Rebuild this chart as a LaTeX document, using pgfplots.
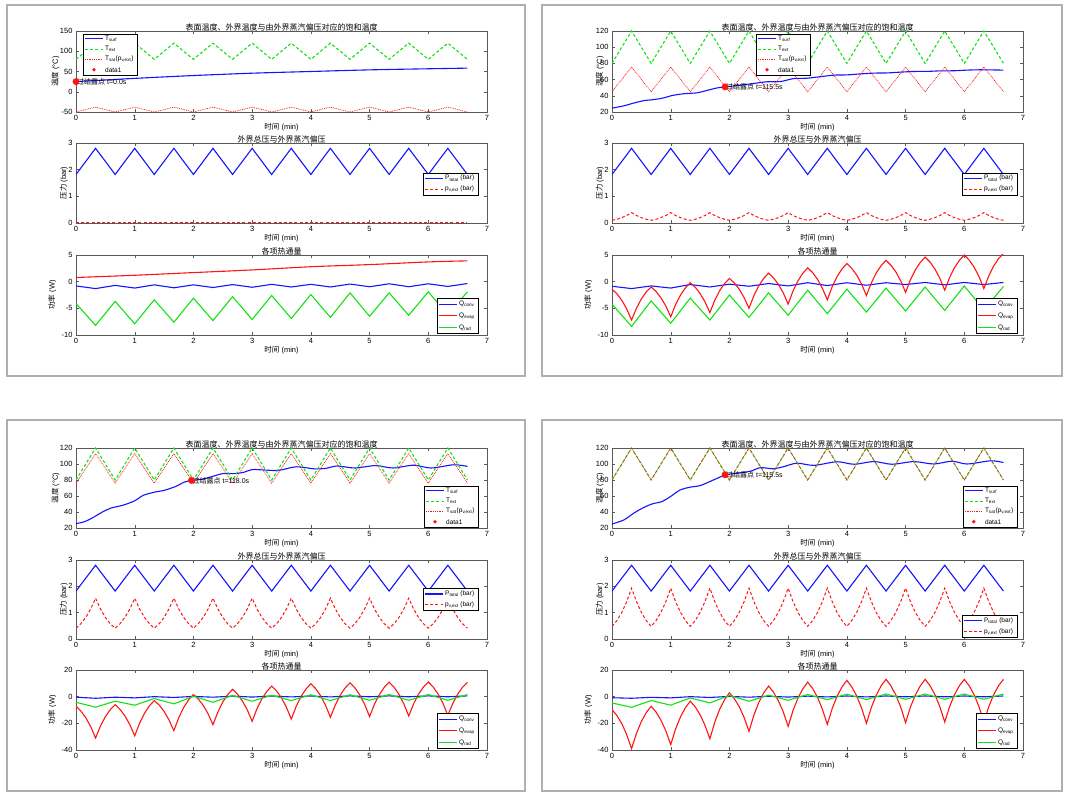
\documentclass[border=0pt]{standalone}
\usepackage{pgfplots}
\pgfplotsset{compat=1.18}
\usepackage{pgfplotstable}
\usepackage{fontspec}
\setmainfont{Liberation Sans}
\newfontfamily\cjk{Noto Sans CJK SC}
\definecolor{mblue}{RGB}{20,20,255}
\definecolor{mgreen}{RGB}{20,225,20}
\definecolor{mred}{RGB}{255,20,20}
\definecolor{frm}{RGB}{175,175,175}

\pgfplotstableread{
t Text Ptot Ts1 Ts2 Ts3 Qc1 Qc2 Qc3 Qc4 Qr1 Qr2 Qr3 Qr4
0 80 1.82 -50 45 76 -0.8 -0.86 -0.4 -0.8 -4.1 -4.2 -4.2 -4.7
0.333 120 2.8 -38 75.5 113 -1.3 -1.3 -1.2 -1.2 -8.2 -8.4 -7.9 -8.0
0.667 80 1.82 -50 45 76 -0.7 -0.8 -0.4 -0.5 -3.7 -3.6 -3.4 -2.9
1 120 2.8 -38 75.5 113 -1.2 -1.2 -0.9 -0.9 -7.9 -7.8 -6.4 -6.4
1.333 80 1.82 -50 45 76 -0.6 -0.54 0 0 -3.4 -3.1 -1.4 -0.9
1.667 120 2.8 -38 75.5 113 -1.15 -1.0 -0.6 -0.6 -7.6 -7.2 -5.4 -4.7
2 80 1.82 -50 45 76 -0.6 -0.47 0.2 0.2 -3.1 -2.5 0.3 0.9
2.333 120 2.8 -38 75.5 113 -1.1 -0.86 -0.4 -0.4 -7.3 -6.7 -4.2 -3.4
2.667 80 1.82 -50 45 76 -0.55 -0.35 0.4 0.3 -2.8 -2.1 0.9 1.1
3 120 2.8 -38 75.5 113 -1.05 -0.8 -0.3 -0.3 -7.1 -6.3 -3.4 -2.7
3.333 80 1.82 -50 45 76 -0.5 -0.2 0.5 0.4 -2.6 -1.6 1.1 1.6
3.667 120 2.8 -38 75.5 113 -1.0 -0.73 -0.2 -0.2 -6.9 -6.0 -2.9 -2.2
4 80 1.82 -50 45 76 -0.5 -0.2 0.5 0.5 -2.4 -1.4 1.4 1.8
4.333 120 2.8 -38 75.5 113 -1.0 -0.67 -0.2 -0.2 -6.7 -5.7 -2.9 -2.2
4.667 80 1.82 -50 45 76 -0.45 -0.2 0.6 0.5 -2.1 -1.2 1.4 2.0
5 120 2.8 -38 75.5 113 -0.95 -0.54 -0.1 -0.1 -6.5 -5.5 -2.7 -2.0
5.333 80 1.82 -50 45 76 -0.4 -0.15 0.6 0.5 -2.1 -1.0 1.6 2.0
5.667 120 2.8 -38 75.5 113 -0.95 -0.6 -0.1 -0.1 -6.3 -5.4 -2.7 -2.0
6 80 1.82 -50 45 76 -0.4 -0.15 0.6 0.5 -1.9 -0.8 1.6 2.0
6.333 120 2.8 -38 75.5 113 -0.9 -0.54 -0.1 -0.1 -6.2 -5.3 -2.7 -2.0
6.667 80 1.82 -50 45 76 -0.35 -0.15 0.6 0.5 -1.9 -0.9 1.6 2.0
}\tri

\pgfplotstableread{
t pv2 pv3 pv4 Qe2 Qe3 Qe4
0 0.10 0.41 0.48 -1.4 -7.2 -9.7
0.083 0.14 0.58 0.70 -2.27 -10.77 -14.1
0.167 0.20 0.82 1.01 -3.49 -15.77 -20.25
0.25 0.28 1.14 1.42 -5.11 -22.43 -28.45
0.333 0.39 1.55 1.93 -7.2 -31 -39
0.417 0.28 1.14 1.42 -4.97 -22 -27.55
0.5 0.20 0.82 1.01 -3.23 -15 -18.65
0.583 0.14 0.58 0.70 -1.93 -9.75 -11.97
0.667 0.10 0.41 0.48 -1.0 -6 -7.2
0.75 0.14 0.58 0.70 -1.84 -9.51 -11.52
0.833 0.20 0.82 1.01 -3.02 -14.42 -17.57
0.917 0.28 1.14 1.42 -4.58 -20.98 -25.63
1 0.39 1.55 1.93 -6.6 -29.4 -36
1.083 0.28 1.14 1.42 -4.30 -19.86 -24.26
1.167 0.20 0.82 1.01 -2.50 -12.44 -15.14
1.25 0.14 0.58 0.70 -1.16 -6.88 -8.29
1.333 0.10 0.41 0.48 -0.2 -2.9 -3.4
1.417 0.14 0.58 0.70 -1.04 -6.29 -7.63
1.5 0.20 0.82 1.01 -2.22 -11.04 -13.55
1.583 0.28 1.14 1.42 -3.78 -17.36 -21.45
1.667 0.39 1.55 1.93 -5.8 -25.5 -31.6
1.75 0.28 1.14 1.42 -3.50 -15.74 -19.18
1.833 0.20 0.82 1.01 -1.70 -8.16 -9.52
1.917 0.14 0.58 0.70 -0.36 -2.47 -2.27
2 0.10 0.41 0.48 0.6 1.6 2.9
2.083 0.14 0.58 0.70 -0.24 -1.79 -1.44
2.167 0.20 0.82 1.01 -1.42 -6.54 -7.5
2.25 0.28 1.14 1.42 -2.98 -12.86 -15.6
2.333 0.39 1.55 1.93 -5.0 -21 -26
2.417 0.28 1.14 1.42 -2.62 -11.46 -13.8
2.5 0.20 0.82 1.01 -0.78 -4.04 -4.3
2.583 0.14 0.58 0.70 0.61 1.53 2.8
2.667 0.10 0.41 0.48 1.6 5.5 7.9
2.75 0.14 0.58 0.70 0.73 1.9 3.37
2.833 0.20 0.82 1.01 -0.49 -3.14 -2.97
2.917 0.28 1.14 1.42 -2.11 -9.86 -11.43
3 0.39 1.55 1.93 -4.2 -18.5 -22.3
3.083 0.28 1.14 1.42 -1.75 -9.0 -10.35
3.167 0.20 0.82 1.01 0.15 -1.6 -1.05
3.25 0.14 0.58 0.70 1.58 3.94 5.92
3.333 0.10 0.41 0.48 2.6 7.9 10.9
3.417 0.14 0.58 0.70 1.70 4.19 6.14
3.5 0.20 0.82 1.01 0.44 -0.99 -0.51
3.583 0.28 1.14 1.42 -1.24 -7.91 -9.39
3.667 0.39 1.55 1.93 -3.4 -16.8 -20.8
3.75 0.28 1.14 1.42 -0.95 -7.26 -8.92
3.833 0.20 0.82 1.01 0.95 0.16 0.32
3.917 0.14 0.58 0.70 2.38 5.73 7.25
4 0.10 0.41 0.48 3.4 9.7 12.2
4.083 0.14 0.58 0.70 2.50 5.92 7.37
4.167 0.20 0.82 1.01 1.24 0.63 0.61
4.25 0.28 1.14 1.42 -0.44 -6.43 -8.41
4.333 0.39 1.55 1.93 -2.6 -15.5 -20
4.417 0.28 1.14 1.42 -0.22 -6.18 -8.12
4.5 0.20 0.82 1.01 1.62 1.08 1.12
4.583 0.14 0.58 0.70 3.01 6.52 8.05
4.667 0.10 0.41 0.48 4.0 10.4 13
4.75 0.14 0.58 0.70 3.10 6.59 8.12
4.833 0.20 0.82 1.01 1.84 1.26 1.3
4.917 0.28 1.14 1.42 0.16 -5.86 -7.8
5 0.39 1.55 1.93 -2.0 -15 -19.5
5.083 0.28 1.14 1.42 0.38 -5.68 -7.8
5.167 0.20 0.82 1.01 2.22 1.58 1.3
5.25 0.14 0.58 0.70 3.61 7.02 8.13
5.333 0.10 0.41 0.48 4.6 10.9 13
5.417 0.14 0.58 0.70 3.67 7.09 8.2
5.5 0.20 0.82 1.01 2.37 1.76 1.48
5.583 0.28 1.14 1.42 0.63 -5.36 -7.48
5.667 0.39 1.55 1.93 -1.6 -14.5 -19
5.75 0.28 1.14 1.42 0.78 -5.32 -7.48
5.833 0.20 0.82 1.01 2.62 1.82 1.48
5.917 0.14 0.58 0.70 4.01 7.18 8.2
6 0.10 0.41 0.48 5.0 11 13
6.083 0.14 0.58 0.70 4.06 7.25 8.2
6.167 0.20 0.82 1.01 2.73 2.0 1.48
6.25 0.28 1.14 1.42 0.97 -5.0 -7.48
6.333 0.39 1.55 1.93 -1.3 -14 -19
6.417 0.28 1.14 1.42 1.08 -5.11 -7.48
6.5 0.20 0.82 1.01 2.92 1.81 1.48
6.583 0.14 0.58 0.70 4.31 7.0 8.2
6.667 0.10 0.41 0.48 5.3 10.7 13
}\fine

\tikzset{
  tsurf/.style={color=mblue, line width=1.1pt, smooth, tension=0.5},
  tex/.style={color=mgreen, line width=1.1pt, dash pattern=on 3pt off 2.2pt},
  tsat/.style={color=mred, line width=0.7pt, dash pattern=on 0.9pt off 0.9pt},
  ptot/.style={color=mblue, line width=1.1pt},
  pv/.style={color=mred, line width=1pt, dash pattern=on 3pt off 2.2pt},
  qc/.style={color=mblue, line width=1.1pt},
  qe/.style={color=mred, line width=1.1pt},
  qr/.style={color=mgreen, line width=1.1pt},
}
\pgfplotsset{
  mat/.style={
    scale only axis, width=411pt, height=80pt,
    xmin=0, xmax=7, xtick={0,1,...,7},
    tick align=inside, tick pos=both, major tick length=3pt,
    axis line style={black!65, line width=0.4pt},
    every tick/.style={black!65, line width=0.4pt},
    tick label style={font=\fontsize{7.5}{8}\selectfont},
    /pgf/number format/assume math mode=true,
    xlabel={{\cjk 时间} (min)},
    label style={font=\fontsize{7.5}{8}\selectfont},
    xlabel style={yshift=4pt},
    ylabel style={at={(axis description cs:-0.03,0.5)}, anchor=center},
    title style={font=\fontsize{8}{9}\selectfont\cjk, yshift=-9.5pt},
  },
  dot/.style={only marks, mark=*, mark size=3.2pt, color=mred},
}
\newcommand{\lab}[1]{\node[anchor=west, inner sep=1pt, font=\fontsize{7}{8}\selectfont] at #1}
% manual legend helpers (scope origin = lower-left corner of legend box)
\newcommand{\LB}[2]{\draw[black, line width=0.4pt, fill=white] (0pt,0pt) rectangle (#1,#2);}
\newcommand{\LT}[2]{\node[anchor=west, inner sep=0pt, font=\fontsize{6.5}{7}\selectfont] at (22pt,#1) {#2};}
% solid sample: y, colour, text
\newcommand{\LS}[3]{\fill[fill=#2] (2pt,#1-0.55pt) rectangle (20pt,#1+0.55pt); \LT{#1}{#3}}
% dashed sample
\newcommand{\LDa}[3]{\foreach \xx in {2,7.2,12.4,17.6}{\fill[fill=#2] (\xx pt,#1-0.5pt) rectangle (\xx pt+2.8pt,#1+0.5pt);} \LT{#1}{#3}}
% dotted sample
\newcommand{\LDo}[3]{\foreach \xx in {2,3.8,...,19}{\fill[fill=#2] (\xx pt,#1-0.35pt) rectangle (\xx pt+0.9pt,#1+0.35pt);} \LT{#1}{#3}}
\newcommand{\LD}[2]{\fill[fill=mred] (11pt,#1) circle (1.9pt); \LT{#1}{#2}}
\newcommand{\legT}{\LB{54pt}{41pt}
  \LS{35.9pt}{mblue}{T\textsubscript{surf}}
  \LDa{25.6pt}{mgreen}{T\textsubscript{ext}}
  \LDo{15.4pt}{mred}{T\textsubscript{sat}(p\textsubscript{v,ext})}
  \LD{5.1pt}{data1}}
\newcommand{\legP}{\LB{55pt}{22pt}
  \LS{16.5pt}{mblue}{P\textsubscript{total} (bar)}
  \LDa{5.5pt}{mred}{p\textsubscript{v,ext} (bar)}}
\newcommand{\legQ}{\LB{41pt}{35pt}
  \LS{29.2pt}{mblue}{Q\textsubscript{conv}}
  \LS{17.5pt}{mred}{Q\textsubscript{evap}}
  \LS{5.8pt}{mgreen}{Q\textsubscript{rad}}}

\begin{document}
\begin{tikzpicture}
\useasboundingbox (0pt,0pt) rectangle (1067pt,792pt);
\draw[frm, line width=1.5pt] (7pt,416pt) rectangle (525pt,787pt);
\draw[frm, line width=1.5pt] (542pt,416pt) rectangle (1062pt,787pt);
\draw[frm, line width=1.5pt] (7pt,1pt) rectangle (525pt,372pt);
\draw[frm, line width=1.5pt] (542pt,1pt) rectangle (1062pt,372pt);

% ================= Panel 1 (top-left) =================
\begin{axis}[mat, at={(76pt,680pt)}, anchor=south west, height=81pt,
  ymin=-50, ymax=150, ytick={-50,0,50,100,150},
  ylabel={{\cjk 温度} (°C)}, ylabel style={at={(axis description cs:-0.05,0.5)}},
  title={表面温度、外界温度与由外界蒸汽偏压对应的饱和温度}]
\addplot[tsurf] coordinates {(0,25) (1,33) (2,40) (3,45.8) (4,50) (5,54) (6,56.7) (6.667,58.3)};
\addplot[tex] table[x=t, y=Text] {\tri};
\addplot[tsat] table[x=t, y=Ts1] {\tri};
\addplot[dot] coordinates {(0,25)};
\lab{(axis cs:0,25)} {{\cjk 过结露点} t=0.0s};
\end{axis}

\begin{axis}[mat, at={(76pt,569pt)}, anchor=south west,
  ymin=0, ymax=3, ytick={0,1,2,3},
  ylabel={{\cjk 压力} (bar)},
  title={外界总压与外界蒸汽偏压}]
\addplot[ptot] table[x=t, y=Ptot] {\tri};
\addplot[pv] coordinates {(0,0.004) (3,0.004) (6.667,0.004)};
\end{axis}

\begin{axis}[mat, at={(76pt,457pt)}, anchor=south west,
  ymin=-10, ymax=5, ytick={-10,-5,0,5},
  ylabel={{\cjk 功率} (W)}, ylabel style={at={(axis description cs:-0.058,0.5)}},
  title={各项热通量}]
\addplot[qc] table[x=t, y=Qc1] {\tri};
\addplot[qe, smooth] coordinates {(0,0.78) (1,1.2) (2,1.7) (3,2.2) (4,2.8) (5,3.2) (6,3.7) (6.667,3.9)};
\addplot[qr] table[x=t, y=Qr1] {\tri};
\end{axis}

% ================= Panel 2 (top-right) =================
\begin{axis}[mat, at={(612pt,680pt)}, anchor=south west, height=81pt,
  ymin=20, ymax=120, ytick={20,40,...,120},
  ylabel={{\cjk 温度} (°C)},
  title={表面温度、外界温度与由外界蒸汽偏压对应的饱和温度}]
\addplot[tsurf] coordinates {(0,24.7) (0.2,27.6) (0.37,31) (0.54,34) (0.71,35.3) (0.88,37.4) (1.02,40.3) (1.22,42.5) (1.45,43.7) (1.62,46.7) (1.79,49.7) (1.925,51) (2.19,53) (2.41,55.2) (2.64,57.3) (2.87,57.6) (3.09,61.2) (3.32,61.7) (3.55,63.6) (3.78,65.5) (4.0,65.8) (4.23,67) (4.46,68) (4.68,68.2) (4.91,69.2) (5.14,70) (5.37,70.1) (5.59,70.8) (5.82,70.9) (6.05,71.7) (6.27,72.1) (6.667,71.7)};
\addplot[tex] table[x=t, y=Text] {\tri};
\addplot[tsat] table[x=t, y=Ts2] {\tri};
\addplot[dot] coordinates {(1.925,51)};
\lab{(axis cs:1.925,51)} {{\cjk 过结露点} t=115.5s};
\end{axis}

\begin{axis}[mat, at={(612pt,569pt)}, anchor=south west,
  ymin=0, ymax=3, ytick={0,1,2,3},
  ylabel={{\cjk 压力} (bar)},
  title={外界总压与外界蒸汽偏压}]
\addplot[ptot] table[x=t, y=Ptot] {\tri};
\addplot[pv] table[x=t, y=pv2] {\fine};
\end{axis}

\begin{axis}[mat, at={(612pt,457pt)}, anchor=south west,
  ymin=-10, ymax=5, ytick={-10,-5,0,5},
  ylabel={{\cjk 功率} (W)}, ylabel style={at={(axis description cs:-0.058,0.5)}},
  title={各项热通量}]
\addplot[qc] table[x=t, y=Qc2] {\tri};
\addplot[qe] table[x=t, y=Qe2] {\fine};
\addplot[qr] table[x=t, y=Qr2] {\tri};
\end{axis}

% ================= Panel 3 (bottom-left) =================
\begin{axis}[mat, at={(76pt,264pt)}, anchor=south west,
  ymin=20, ymax=120, ytick={20,40,...,120},
  ylabel={{\cjk 温度} (°C)}, ylabel style={at={(axis description cs:-0.05,0.5)}},
  title={表面温度、外界温度与由外界蒸汽偏压对应的饱和温度}]
\addplot[tsurf] coordinates {(0,25.5) (0.15,28) (0.3,33.5) (0.45,40) (0.6,45) (0.8,48.5) (1.0,54) (1.15,61) (1.35,65) (1.5,67) (1.7,72) (1.85,77.5) (1.97,79.5) (2.15,81) (2.35,85) (2.5,88) (2.7,88) (2.85,89.5) (3.0,93) (3.2,92.5) (3.45,92) (3.75,96.5) (4.05,94) (4.25,94.5) (4.45,97.5) (4.75,95) (5.1,98) (5.4,95) (5.75,98.5) (6.05,95) (6.43,99) (6.667,97)};
\addplot[tex] table[x=t, y=Text] {\tri};
\addplot[tsat] table[x=t, y=Ts3] {\tri};
\addplot[dot] coordinates {(1.967,79.5)};
\lab{(axis cs:1.967,79.5)} {{\cjk 过结露点} t=118.0s};
\end{axis}

\begin{axis}[mat, at={(76pt,153pt)}, anchor=south west, height=79pt,
  ymin=0, ymax=3, ytick={0,1,2,3},
  ylabel={{\cjk 压力} (bar)},
  title={外界总压与外界蒸汽偏压}]
\addplot[ptot] table[x=t, y=Ptot] {\tri};
\addplot[pv] table[x=t, y=pv3] {\fine};
\end{axis}

\begin{axis}[mat, at={(76pt,42pt)}, anchor=south west,
  ymin=-40, ymax=20, ytick={-40,-20,0,20},
  ylabel={{\cjk 功率} (W)}, ylabel style={at={(axis description cs:-0.058,0.5)}},
  title={各项热通量}]
\addplot[qc] table[x=t, y=Qc3] {\tri};
\addplot[qe] table[x=t, y=Qe3] {\fine};
\addplot[qr] table[x=t, y=Qr3] {\tri};
\end{axis}

% ================= Panel 4 (bottom-right) =================
\begin{axis}[mat, at={(612pt,264pt)}, anchor=south west,
  ymin=20, ymax=120, ytick={20,40,...,120},
  ylabel={{\cjk 温度} (°C)},
  title={表面温度、外界温度与由外界蒸汽偏压对应的饱和温度}]
\addplot[tsurf] coordinates {(0,25) (0.2,30) (0.37,38.5) (0.51,44.5) (0.68,50) (0.85,53) (0.99,59) (1.16,67.5) (1.33,71) (1.5,73) (1.68,78.5) (1.85,84) (1.925,86.5) (2.19,89) (2.36,91) (2.53,95.4) (2.75,94) (2.92,96.6) (3.15,101) (3.44,98.3) (3.83,102.8) (4.12,99.7) (4.46,103) (4.77,99.7) (5.14,103) (5.48,100) (5.79,103.5) (6.05,100) (6.45,104) (6.667,101.8)};
\addplot[tex] table[x=t, y=Text] {\tri};
\addplot[tsat] table[x=t, y=Text] {\tri};
\addplot[dot] coordinates {(1.925,86.5)};
\lab{(axis cs:1.925,86.5)} {{\cjk 过结露点} t=115.5s};
\end{axis}

\begin{axis}[mat, at={(612pt,153pt)}, anchor=south west, height=79pt,
  ymin=0, ymax=3, ytick={0,1,2,3},
  ylabel={{\cjk 压力} (bar)},
  title={外界总压与外界蒸汽偏压}]
\addplot[ptot] table[x=t, y=Ptot] {\tri};
\addplot[pv] table[x=t, y=pv4] {\fine};
\end{axis}

\begin{axis}[mat, at={(612pt,42pt)}, anchor=south west,
  ymin=-40, ymax=20, ytick={-40,-20,0,20},
  ylabel={{\cjk 功率} (W)}, ylabel style={at={(axis description cs:-0.058,0.5)}},
  title={各项热通量}]
\addplot[qc] table[x=t, y=Qc4] {\tri};
\addplot[qe] table[x=t, y=Qe4] {\fine};
\addplot[qr] table[x=t, y=Qr4] {\tri};
\end{axis}

% ================= legends (absolute positions) =================
\begin{scope}[shift={(83pt,717.2pt)}]\legT\end{scope}
\begin{scope}[shift={(756pt,717.2pt)}]\legT\end{scope}
\begin{scope}[shift={(424pt,265.2pt)}]\legT\end{scope}
\begin{scope}[shift={(962.8pt,265.2pt)}]\legT\end{scope}
\begin{scope}[shift={(423pt,597.2pt)}]\legP\end{scope}
\begin{scope}[shift={(961.8pt,597.2pt)}]\legP\end{scope}
\begin{scope}[shift={(423pt,181.5pt)}]\legP\end{scope}
\begin{scope}[shift={(961.8pt,154.6pt)}]\legP\end{scope}
\begin{scope}[shift={(437pt,458.6pt)}]\legQ\end{scope}
\begin{scope}[shift={(975.8pt,458.6pt)}]\legQ\end{scope}
\begin{scope}[shift={(437pt,43.6pt)}]\legQ\end{scope}
\begin{scope}[shift={(975.8pt,43.6pt)}]\legQ\end{scope}
\end{tikzpicture}
\end{document}
